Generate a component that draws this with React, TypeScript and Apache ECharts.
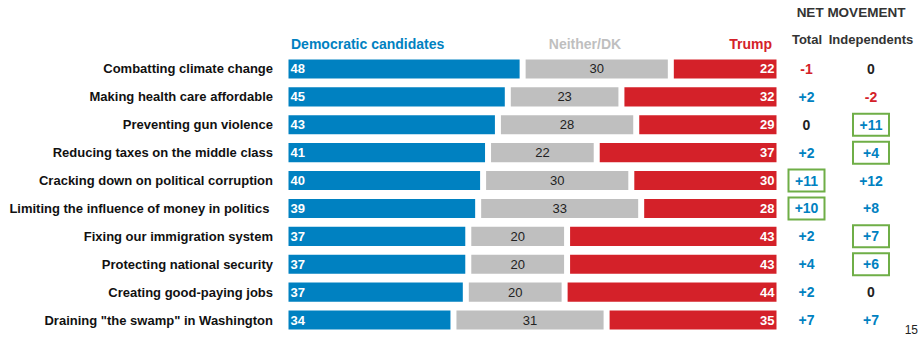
import React, { useEffect, useRef } from "react";
import * as echarts from "echarts";

const categories = [
  "Combatting climate change",
  "Making health care affordable",
  "Preventing gun violence",
  "Reducing taxes on the middle class",
  "Cracking down on political corruption",
  "Limiting the influence of money in politics ",
  "Fixing our immigration system",
  "Protecting national security",
  "Creating good-paying jobs",
  'Draining "the swamp" in Washington',
];
const seriesNames = ["Democratic candidates", "Neither/DK", "Trump"];
const democratic = [48, 45, 43, 41, 40, 39, 37, 37, 36.5, 34];
const neither = [30, 23, 28, 22, 30, 33, 20, 20, 20, 31];
const trump = [22, 32, 29, 37, 30, 28, 43, 43, 43.5, 35];
const totalNet = [-1, 2, 0, 2, 11, 10, 2, 4, 2, 7];
const independentsNet = [0, -2, 11, 4, 12, 8, 7, 6, 0, 7];
const totalBoxed = [4, 5];
const independentsBoxed = [2, 3, 6, 7];
const netHeaders = ["NET MOVEMENT", "Total", "Independents"];
const footnote = "15";

const FONT = '"Liberation Sans", Arial, sans-serif';
const BLUE = "#0081c1";
const RED = "#d42129";
const GRAY = "#bfbfbf";
const GREEN = "#6fae47";

const netRich = {
  pos: { color: BLUE, fontWeight: "bold", fontSize: 14, fontFamily: FONT },
  neg: { color: RED, fontWeight: "bold", fontSize: 14, fontFamily: FONT },
  zero: { color: "#222", fontWeight: "bold", fontSize: 14, fontFamily: FONT },
  posBox: {
    color: BLUE,
    fontWeight: "bold",
    fontSize: 14,
    fontFamily: FONT,
    borderColor: GREEN,
    borderWidth: 2,
    width: 36,
    height: 22,
    lineHeight: 22,
    align: "center",
  },
};

function fmtNet(v: number, boxed: boolean) {
  const text = v > 0 ? `+${v}` : `${v}`;
  const style = v > 0 ? (boxed ? "posBox" : "pos") : v < 0 ? "neg" : "zero";
  return `{${style}|${text}}`;
}

export default function App() {
  const ref = useRef<HTMLDivElement>(null);
  useEffect(() => {
    document.body.style.margin = "0";
    const chart = echarts.init(ref.current!, undefined, { renderer: "svg" });
    const barLabel = (position: string, color: string, bold: boolean) => ({
      show: true,
      position,
      distance: 5,
      color,
      fontSize: 13,
      fontWeight: bold ? "bold" : "normal",
      fontFamily: FONT,
      formatter: (p: any) => `${Math.round(p.value)}`,
    });
    const colors = [BLUE, GRAY, RED];
    const values = [democratic, neither, trump];
    const labels = [
      barLabel("insideLeft", "#fff", true),
      barLabel("inside", "#222", false),
      barLabel("insideRight", "#fff", true),
    ];
    const axisCommon = {
      type: "category",
      data: categories,
      inverse: true,
      axisLine: { show: false },
      axisTick: { show: false },
      splitLine: { show: false },
    };
    const hText = (
      text: string,
      x: number,
      y: number,
      fill: string,
      align: string,
      size: number
    ) => ({
      type: "text",
      x,
      y,
      style: {
        text,
        fill,
        fontSize: size,
        fontWeight: "bold",
        fontFamily: FONT,
        align,
        verticalAlign: "middle",
      },
    });
    chart.setOption({
      animation: false,
      grid: { left: 285.5, right: 139.5, top: 55, bottom: 3 },
      xAxis: { type: "value", min: 0, max: 100, show: false },
      yAxis: [
        {
          ...axisCommon,
          axisLabel: {
            margin: 12.5,
            color: "#111",
            fontSize: 13,
            fontWeight: "bold",
            fontFamily: FONT,
          },
        },
        {
          ...axisCommon,
          position: "right",
          axisLabel: {
            margin: 27,
            align: "center",
            formatter: (_: string, i: number) => fmtNet(totalNet[i], totalBoxed.includes(i)),
            rich: netRich,
          },
        },
        {
          ...axisCommon,
          position: "right",
          axisLabel: {
            margin: 91.5,
            align: "center",
            formatter: (_: string, i: number) =>
              fmtNet(independentsNet[i], independentsBoxed.includes(i)),
            rich: netRich,
          },
        },
      ],
      series: seriesNames.map((name, k) => ({
        name,
        type: "bar",
        stack: "total",
        barCategoryGap: "10%",
        data: values[k],
        itemStyle: { color: colors[k], borderColor: "#fff", borderWidth: 3 },
        label: labels[k],
      })),
      graphic: [
        hText(seriesNames[0], 291, 44, BLUE, "left", 14),
        hText(seriesNames[1], 585, 44, GRAY, "center", 14),
        hText(seriesNames[2], 772, 44, RED, "right", 14),
        hText(netHeaders[0], 851, 12, "#333", "center", 13.5),
        hText(netHeaders[1], 807, 39, "#333", "center", 13),
        hText(netHeaders[2], 871, 39, "#333", "center", 13),
        {
          type: "text",
          x: 918,
          y: 330,
          style: {
            text: footnote,
            fill: "#222",
            fontSize: 12,
            fontFamily: FONT,
            align: "right",
            verticalAlign: "middle",
          },
        },
      ],
    });
    return () => chart.dispose();
  }, []);
  return <div ref={ref} style={{ width: 919, height: 337 }} />;
}
